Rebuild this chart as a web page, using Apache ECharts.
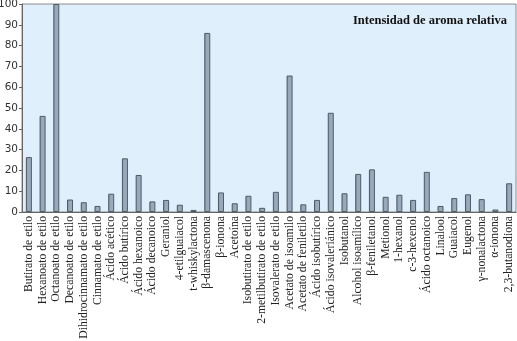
<!DOCTYPE html>
<html>
<head>
<meta charset="utf-8">
<script src="https://cdn.jsdelivr.net/npm/echarts@6/dist/echarts.min.js"></script>
<style>
  html, body { margin: 0; padding: 0; background: #ffffff; }
  #chart { width: 517px; height: 341px; }
</style>
</head>
<body>
<div id="chart"></div>
<script>
// Aroma compounds and their relative intensity (max = 100)
var compounds = [
  'Butirato de etilo', 'Hexanoato de etilo', 'Octanoato de etilo', 'Decanoato de etilo',
  'Dihidrocinnamato de etilo', 'Cinnamato de etilo', 'Ácido acético', 'Ácido butírico',
  'Ácido hexanoico', 'Ácido decanoico', 'Geraniol', '4-etilguaiacol', 't-whiskylactona',
  'β-damascenona', 'β-ionona', 'Acetoína', 'Isobutirato de etilo', '2-metilbutirato de etilo',
  'Isovalerato de etilo', 'Acetato de isoamilo', 'Acetato de feniletilo', 'Ácido isobutírico',
  'Ácido isovaleriánico', 'Isobutanol', 'Alcohol isoamílico', 'β-feniletanol', 'Metionol',
  '1-hexanol', 'c-3-hexenol', 'Ácido octanoico', 'Linalool', 'Guaiacol', 'Eugenol',
  'γ-nonalactona', 'α-ionona', '2,3-butanodiona'
];
var intensity = [
  26.4, 46.2, 100, 6.0,
  4.7, 2.9, 8.8, 25.8,
  17.8, 5.1, 5.8, 3.5, 1.0,
  86.1, 9.4, 4.2, 7.8, 2.0,
  9.7, 65.6, 3.7, 5.8,
  47.7, 9.0, 18.3, 20.5, 7.3,
  8.3, 5.8, 19.3, 2.9, 6.7, 8.5,
  6.2, 1.2, 13.8
];
var yTicks = { min: 0, max: 100, step: 10 };
var chartTitle = 'Intensidad de aroma relativa';

var chart = echarts.init(document.getElementById('chart'), null, { renderer: 'canvas' });
chart.setOption({
  animation: false,
  backgroundColor: '#ffffff',
  title: {
    text: chartTitle,
    right: 5,
    top: 9,
    textStyle: {
      fontFamily: 'Liberation Serif',
      fontWeight: 'bold',
      fontSize: 12.5,
      color: '#111111'
    }
  },
  grid: {
    left: 22, right: 1, top: 4, bottom: 129,
    containLabel: false,
    outerBoundsMode: 'none',
    show: true,
    backgroundColor: '#e0effc',
    borderColor: '#8a8a8a',
    borderWidth: 1
  },
  xAxis: {
    type: 'category',
    data: compounds,
    axisLine: { show: true, lineStyle: { color: '#666666', width: 1 } },
    axisTick: { show: false },
    axisLabel: {
      interval: 0,
      rotate: 90,
      margin: 4,
      hideOverlap: false,
      fontFamily: 'Liberation Serif',
      fontSize: 11.7,
      color: '#222222'
    }
  },
  yAxis: {
    type: 'value',
    min: yTicks.min,
    max: yTicks.max,
    interval: yTicks.step,
    splitLine: { show: false },
    axisLine: { show: true, lineStyle: { color: '#666666', width: 1 } },
    axisTick: { show: true, length: 3, lineStyle: { color: '#666666' } },
    axisLabel: {
      margin: 4,
      fontFamily: 'DejaVu Sans',
      fontSize: 10.5,
      color: '#333333'
    }
  },
  series: [{
    type: 'bar',
    data: intensity,
    barWidth: 6,
    itemStyle: {
      color: new echarts.graphic.LinearGradient(0, 0, 1, 0, [
        { offset: 0, color: '#6f8090' },
        { offset: 0.3, color: '#95a8b9' },
        { offset: 1, color: '#9cadbd' }
      ]),
      borderColor: '#4e5b68',
      borderWidth: 1
    }
  }]
});
</script>
</body>
</html>
